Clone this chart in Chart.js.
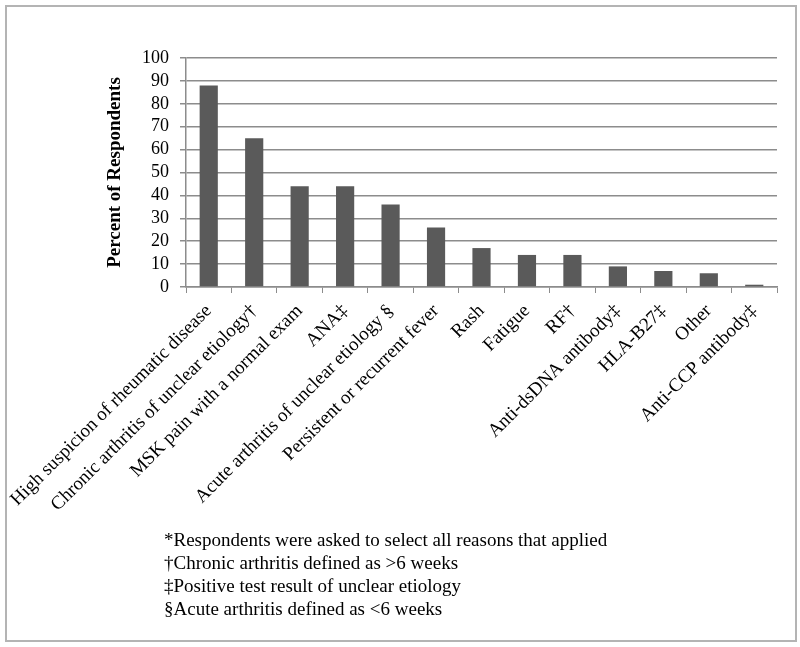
<!DOCTYPE html>
<html>
<head>
<meta charset="utf-8">
<script src="https://cdn.jsdelivr.net/npm/chart.js@4"></script>
<style>
  html, body { margin: 0; padding: 0; background: #fff; }
  #frame {
    position: absolute; left: 5px; top: 5px; width: 788px; height: 633px;
    border: 2px solid #b4b4b4; background: #fff;
  }
  #wrap { position: absolute; left: 0; top: 0; width: 788px; height: 525px; }
  #notes {
    position: absolute; left: 157px; top: 521px;
    font-family: "Liberation Serif", "Times New Roman", serif;
    font-size: 19px; line-height: 23px; color: #000;
  }
</style>
</head>
<body>
<div id="frame">
  <div id="wrap"><canvas id="chart"></canvas></div>
  <div id="notes">
    *Respondents were asked to select all reasons that applied<br>
    †Chronic arthritis defined as &gt;6 weeks<br>
    ‡Positive test result of unclear etiology<br>
    §Acute arthritis defined as &lt;6 weeks
  </div>
</div>
<script>
const categories = [
  "High suspicion of rheumatic disease",
  "Chronic arthritis of unclear etiology†",
  "MSK pain with a normal exam",
  "ANA‡",
  "Acute arthritis of unclear etiology §",
  "Persistent or recurrent fever",
  "Rash",
  "Fatigue",
  "RF†",
  "Anti-dsDNA antibody‡",
  "HLA-B27‡",
  "Other",
  "Anti-CCP antibody‡"
];
const percentRespondents = [88, 65, 44, 44, 36, 26, 17, 14, 14, 9, 7, 6, 1];
const yTicks = [0, 10, 20, 30, 40, 50, 60, 70, 80, 90, 100];

const serif = "'Liberation Serif', 'Times New Roman', serif";

new Chart(document.getElementById("chart"), {
  type: "bar",
  data: {
    labels: categories,
    datasets: [{
      label: "Percent of Respondents",
      data: percentRespondents,
      backgroundColor: "#5a5a5a",
      borderWidth: 0,
      categoryPercentage: 1.0,
      barPercentage: 0.4
    }]
  },
  options: {
    responsive: true, maintainAspectRatio: false,
    animation: false,
    layout: { padding: { left: 86, right: 18, top: 51, bottom: 0 } },
    scales: {
      x: {
        afterFit: (scale) => { scale.height = 245; scale.paddingLeft = 0; scale.paddingRight = 0; },
        grid: { offset: true, drawOnChartArea: false, color: "#8c8c8c", tickLength: 6 },
        border: { color: "#8c8c8c", width: 1.5 },
        ticks: {
          color: "#000", font: { family: serif, size: 19 },
          minRotation: 45, maxRotation: 45, autoSkip: false, padding: 7
        }
      },
      y: {
        min: 0, max: 100,
        afterBuildTicks: (scale) => { scale.ticks = yTicks.map(v => ({ value: v })); },
        afterFit: (scale) => { scale.width = 93; },
        grid: { color: "#8c8c8c", lineWidth: 1.5, tickLength: 6 },
        border: { color: "#8c8c8c", width: 1.5 },
        ticks: { color: "#000", font: { family: serif, size: 18 }, padding: 11, autoSkip: false },
        title: {
          display: true, text: "Percent of Respondents", color: "#000",
          font: { family: serif, size: 19, weight: "bold" }, padding: { top: 11, bottom: 0 }
        }
      }
    },
    plugins: {
      legend: { display: false },
      tooltip: { enabled: false }
    }
  }
});
</script>
</body>
</html>
